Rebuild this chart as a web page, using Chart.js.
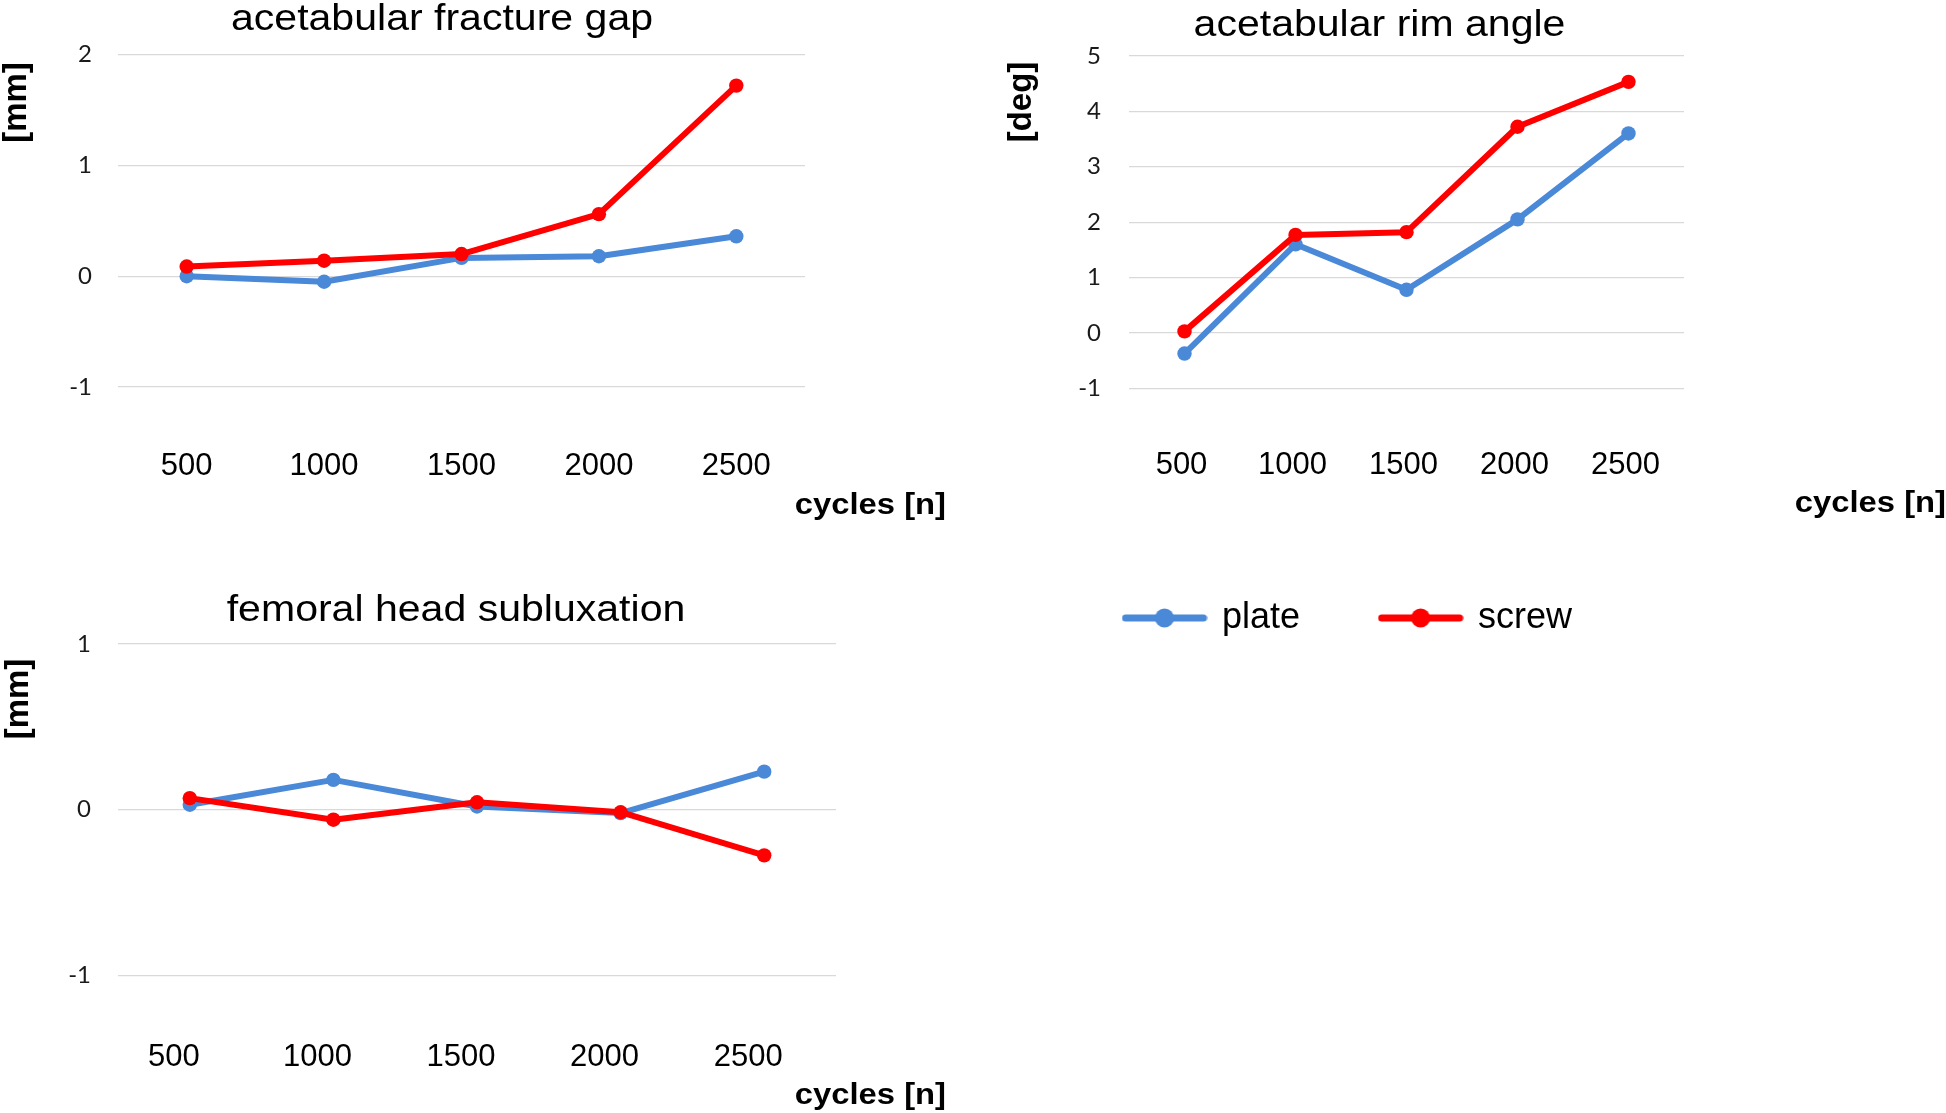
<!DOCTYPE html>
<html>
<head>
<meta charset="utf-8">
<script src="https://cdn.jsdelivr.net/npm/chart.js@4.4.1/dist/chart.umd.min.js"></script>
<style>
  html, body { margin: 0; padding: 0; background: #ffffff; }
  body { width: 1946px; height: 1113px; position: relative; overflow: hidden; }
  canvas { position: absolute; display: block; }
</style>
</head>
<body>
<canvas id="gap" width="970" height="540" style="left:0px; top:0px;"></canvas>
<canvas id="rim" width="966" height="646" style="left:980px; top:0px;"></canvas>
<canvas id="sub" width="970" height="553" style="left:0px; top:560px;"></canvas>
<script>
// ---------------- data ----------------
const CATEGORIES = ['500', '1000', '1500', '2000', '2500'];
const SERIES_NAMES = ['plate', 'screw'];

const GAP_PLATE = [0.00, -0.05, 0.165, 0.18, 0.36];
const GAP_SCREW = [0.087, 0.14, 0.20, 0.56, 1.72];

const RIM_PLATE = [-0.37, 1.60, 0.78, 2.05, 3.60];
const RIM_SCREW = [0.03, 1.77, 1.82, 3.72, 4.53];

const SUB_PLATE = [0.03, 0.18, 0.02, -0.02, 0.23];
const SUB_SCREW = [0.07, -0.06, 0.045, -0.015, -0.275];

const GAP_Y_TICKS = [-1, 0, 1, 2];
const RIM_Y_TICKS = [-1, 0, 1, 2, 3, 4, 5];
const SUB_Y_TICKS = [-1, 0, 1];

const TITLES = ['acetabular fracture gap', 'acetabular rim angle', 'femoral head subluxation'];
const Y_UNITS = ['[mm]', '[deg]', '[mm]'];
const X_TITLE = 'cycles [n]';

// ---------------- styles ----------------
const COLORS = ['#4a88d8', '#ff0000'];
const GRID = '#d9d9d9';

// text drawing plugin (titles and axis titles)
const figText = {
  id: 'figText',
  afterDraw(chart, args, opts) {
    const ctx = chart.ctx;
    (opts.items || []).forEach(t => {
      ctx.save();
      ctx.font = t.font;
      ctx.fillStyle = t.color || '#000';
      ctx.textAlign = t.align || 'center';
      ctx.textBaseline = t.baseline || 'alphabetic';
      ctx.translate(t.x, t.y);
      if (t.rotate) ctx.rotate(t.rotate);
      if (t.scaleX) ctx.scale(t.scaleX, 1);
      ctx.fillText(t.text, 0, 0);
      ctx.restore();
    });
  }
};
Chart.register(figText);

function makeIcon(color) {
  const c = document.createElement('canvas');
  c.width = 86; c.height = 22;
  const g = c.getContext('2d');
  g.strokeStyle = color; g.lineWidth = 7; g.lineCap = 'round';
  g.beginPath(); g.moveTo(4, 11); g.lineTo(82, 11); g.stroke();
  g.fillStyle = color;
  g.beginPath(); g.arc(43, 11, 9.5, 0, Math.PI * 2); g.fill();
  return c;
}
const ICONS = COLORS.map(makeIcon);

function ds(label, data, color, order) {
  return {
    label, data,
    borderColor: color, backgroundColor: color,
    pointBackgroundColor: color, pointBorderColor: color,
    borderWidth: 6, pointRadius: 7.2, pointBorderWidth: 0, pointHoverRadius: 7.2,
    tension: 0, borderJoinStyle: 'round', borderCapStyle: 'round',
    order
  };
}

function build(id, cfg) {
  const canvas = document.getElementById(id);
  const W = canvas.width, H = canvas.height;
  const a = cfg.area; // [left, top, right, bottom] of the plot, canvas coords
  return new Chart(canvas, {
    type: 'line',
    data: {
      labels: CATEGORIES,
      datasets: [
        ds(SERIES_NAMES[0], cfg.plate, COLORS[0], 2),
        ds(SERIES_NAMES[1], cfg.screw, COLORS[1], 1)
      ]
    },
    options: {
      responsive: false,
      animation: false,
      events: [],
      layout: {
        padding: { left: cfg.padLeft || 0, top: a[1], right: W - a[2], bottom: cfg.padBottom }
      },
      scales: {
        x: {
          type: 'category',
          offset: true,
          grid: { display: false, drawTicks: false },
          border: { display: false },
          ticks: {
            padding: cfg.xPad,
            labelOffset: cfg.xLabelOffset || 0,
            color: '#000',
            font: { family: '"Liberation Sans", Arial, sans-serif', size: 31 },
            maxRotation: 0, autoSkip: false
          },
          afterFit(s) { s.height = cfg.xHeight; }
        },
        y: {
          min: cfg.yTicks[0],
          max: cfg.yTicks[cfg.yTicks.length - 1],
          grid: { color: GRID, lineWidth: 1.2, drawTicks: false },
          border: { display: false },
          ticks: {
            stepSize: 1,
            padding: cfg.yPad,
            color: '#1a1a1a',
            font: { family: 'Lato, "Open Sans", sans-serif', size: 24 }
          },
          afterFit(s) { s.width = a[0] - (cfg.padLeft || 0); }
        }
      },
      plugins: {
        legend: cfg.legend || { display: false },
        tooltip: { enabled: false },
        title: { display: false },
        figText: { items: cfg.texts }
      }
    }
  });
}

const TITLE_FONT = '36px "Liberation Sans", Arial, sans-serif';
const XT_FONT = 'bold 29px "Liberation Sans", Arial, sans-serif';
const YT_FONT = 'bold 33px "Liberation Sans", Arial, sans-serif';

build('gap', {
  plate: GAP_PLATE, screw: GAP_SCREW, yTicks: GAP_Y_TICKS,
  area: [118, 54.6, 805, 387], xHeight: 100, padBottom: 53, xPad: 61, yPad: 26,
  texts: [
    { text: TITLES[0], font: TITLE_FONT, x: 442, y: 30, scaleX: 1.14 },
    { text: Y_UNITS[0], font: YT_FONT, x: 17, y: 102.5, rotate: -Math.PI / 2, baseline: 'middle' },
    { text: X_TITLE, font: XT_FONT, x: 946, y: 514, align: 'right', scaleX: 1.13 }
  ]
});

build('rim', {
  plate: RIM_PLATE, screw: RIM_SCREW, yTicks: RIM_Y_TICKS,
  area: [149, 55.8, 704, 388.5], xHeight: 130.5, padBottom: 0, padLeft: 64, xPad: 58, yPad: 28,
  xLabelOffset: -3,
  legend: {
    display: true,
    position: 'bottom',
    align: 'start',
    labels: {
      usePointStyle: true,
      pointStyleWidth: 79,
      padding: 81,
      color: '#000',
      font: { family: '"Liberation Sans", Arial, sans-serif', size: 36 },
      sort: (x, y) => x.datasetIndex - y.datasetIndex,
      generateLabels(chart) {
        const items = Chart.defaults.plugins.legend.labels.generateLabels(chart);
        items.forEach(it => { it.pointStyle = ICONS[it.datasetIndex]; });
        return items;
      }
    }
  },
  texts: [
    { text: TITLES[1], font: TITLE_FONT, x: 399.5, y: 36, scaleX: 1.14 },
    { text: Y_UNITS[1], font: YT_FONT, x: 41.5, y: 102, rotate: -Math.PI / 2, baseline: 'middle' },
    { text: X_TITLE, font: XT_FONT, x: 966, y: 512, align: 'right', scaleX: 1.13 }
  ]
});

build('sub', {
  plate: SUB_PLATE, screw: SUB_SCREW, yTicks: SUB_Y_TICKS,
  area: [118, 84, 836, 415.5], xHeight: 100, padBottom: 37.5, xPad: 63, yPad: 27,
  xLabelOffset: -16,
  texts: [
    { text: TITLES[2], font: TITLE_FONT, x: 456, y: 61, scaleX: 1.14 },
    { text: Y_UNITS[2], font: YT_FONT, x: 19, y: 139, rotate: -Math.PI / 2, baseline: 'middle' },
    { text: X_TITLE, font: XT_FONT, x: 946, y: 544, align: 'right', scaleX: 1.13 }
  ]
});
</script>
</body>
</html>
